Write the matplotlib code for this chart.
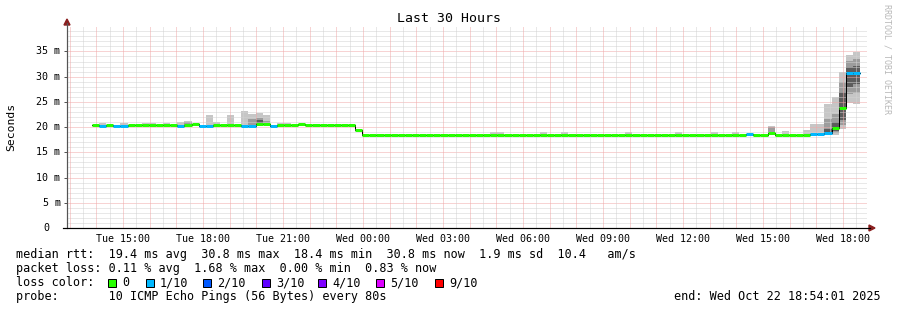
import matplotlib
matplotlib.use('Agg')
import matplotlib.pyplot as plt
from matplotlib.patches import Polygon, Rectangle
from matplotlib.lines import Line2D
from matplotlib.transforms import blended_transform_factory
import numpy as np

# ---------------- data ----------------
# time in hours since Tue 00:00; bins of 16 minutes
x_start = 12.9          # Tue 12:54
x_end = 42.9            # Wed 18:54
bin_start = 13.8375     # first consolidated bin
bin_hours = 16 / 60

median_ms = [
    20.4, 20.3, 20.4, 20.3, 20.3, 20.4, 20.4, 20.4, 20.4, 20.4,
    20.5, 20.4, 20.3, 20.5, 20.6, 20.3, 20.3, 20.5, 20.4, 20.5,
    20.5, 20.3, 20.3, 20.7, 20.6, 20.3, 20.4, 20.4, 20.4, 20.6,
    20.4, 20.4, 20.4, 20.4, 20.4, 20.4, 20.4, 19.4, 18.5, 18.5,
    18.5, 18.5, 18.5, 18.5, 18.5, 18.5, 18.5, 18.5, 18.5, 18.5,
    18.5, 18.5, 18.5, 18.5, 18.5, 18.5, 18.5, 18.5, 18.5, 18.5,
    18.5, 18.5, 18.5, 18.5, 18.5, 18.5, 18.5, 18.5, 18.5, 18.5,
    18.5, 18.5, 18.5, 18.5, 18.5, 18.4, 18.5, 18.5, 18.5, 18.5,
    18.5, 18.5, 18.5, 18.5, 18.5, 18.5, 18.5, 18.5, 18.5, 18.5,
    18.5, 18.5, 18.6, 18.5, 18.5, 18.9, 18.5, 18.5, 18.5, 18.4,
    18.5, 18.6, 18.6, 18.8, 19.9, 23.8, 30.8, 30.8,
]
# loss in tenths per bin (0 unless listed)
loss_bins = [1, 3, 4, 12, 15, 16, 21, 22, 25, 92, 101, 102, 103, 106, 107]
loss_vals = [1, 1, 1, 1, 1, 1, 1, 1, 1, 1, 1, 1, 1, 1, 1]

# smoke (ping spread) - light outer band
smoke_bins = [1, 4, 7, 8, 10, 12, 13, 16, 17, 19, 21, 22, 23, 24, 26, 27,
              56, 57, 63, 66, 75, 82, 87, 90, 95, 97, 100, 101, 102, 103,
              104, 105, 106, 107]
smoke_lo = [20.2, 20.2, 20.3, 20.3, 20.3, 20.2, 20.3, 20.2, 20.3, 20.3, 20.2,
            20.2, 20.4, 20.4, 20.3, 20.3,
            18.3, 18.3, 18.3, 18.3, 18.3, 18.3, 18.3, 18.3, 18.4, 18.4, 18.4,
            18.4, 18.4, 18.4, 18.4, 19.6, 24.8, 24.6]
smoke_hi = [20.8, 20.8, 20.8, 20.8, 20.8, 21.1, 21.2, 22.3, 21.1, 22.3, 23.1,
            22.6, 22.8, 22.4, 20.8, 20.8,
            19.1, 19.1, 19.0, 19.0, 19.0, 19.0, 19.0, 19.0, 20.3, 19.2, 19.5,
            20.6, 20.6, 24.6, 26.0, 31.0, 34.2, 34.8]
# middle band
mid_bins = [13, 22, 23, 24, 95, 103, 104, 105, 106, 107]
mid_lo = [20.4, 20.5, 20.5, 20.4, 18.6, 18.6, 18.8, 20.5, 26.5, 26.8]
mid_hi = [21.0, 21.6, 21.8, 21.2, 20.0, 21.6, 22.5, 29.0, 33.2, 33.5]
# dark inner band
dark_bins = [23, 103, 104, 105, 106, 107]
dark_lo = [20.6, 18.7, 19.2, 21.5, 28.0, 28.5]
dark_hi = [21.4, 19.6, 21.0, 27.0, 32.0, 32.2]

y_ticks = [0, 5, 10, 15, 20, 25, 30, 35]
y_tick_labels = ['0', '5 m', '10 m', '15 m', '20 m', '25 m', '30 m', '35 m']
x_ticks = [15, 18, 21, 24, 27, 30, 33, 36, 39, 42]
x_tick_labels = ['Tue 15:00', 'Tue 18:00', 'Tue 21:00', 'Wed 00:00', 'Wed 03:00',
                 'Wed 06:00', 'Wed 09:00', 'Wed 12:00', 'Wed 15:00', 'Wed 18:00']

loss_colors = {0: '#26ff00', 1: '#00b8ff', 2: '#0059ff', 3: '#5e00ff',
               4: '#7e00ff', 5: '#dd00ff', 9: '#ff0000'}
legend_loss = ['0', '1/10', '2/10', '3/10', '4/10', '5/10', '9/10']
legend_keys = [0, 1, 2, 3, 4, 5, 9]

line1 = 'median rtt:  19.4 ms avg  30.8 ms max  18.4 ms min  30.8 ms now  1.9 ms sd  10.4   am/s'
line2 = 'packet loss: 0.11 % avg  1.68 % max  0.00 % min  0.83 % now'
line3 = 'loss color:'
line4 = 'probe:       10 ICMP Echo Pings (56 Bytes) every 80s'
end_text = 'end: Wed Oct 22 18:54:01 2025'

# ---------------- figure ----------------
W, H, DPI = 897, 310, 100
MONO = 'DejaVu Sans Mono'
fig = plt.figure(figsize=(W / DPI, H / DPI), dpi=DPI)
fig.patch.set_facecolor('white')

L, R, B, T = 67, 867, 228, 26.2
ax = fig.add_axes([L / W, 1 - B / H, (R - L) / W, (B - T) / H])
ax.set_facecolor('white')
ax.set_xlim(x_start, x_end)
ax.set_ylim(0, 40)
for s in ax.spines.values():
    s.set_visible(False)

PX = 72 / DPI  # points per pixel
dot = (0, (1, 1))
minor_c = '#d2d2d2'
major_c = '#f0a8a8'
for v in range(1, 40):
    ax.axhline(v, color=major_c if v % 5 == 0 else minor_c, lw=PX, ls=dot, zorder=3)
hh = 13.0
while hh < x_end:
    is_major = abs(hh - round(hh)) < 1e-6
    ax.axvline(hh, color=major_c if is_major else minor_c, lw=PX, ls=dot, zorder=3)
    hh += 0.5

n = len(median_ms)
edges = bin_start + np.arange(n + 1) * bin_hours

def bands(idx, lo, hi, color, z):
    for i, a, b in zip(idx, lo, hi):
        ax.bar(edges[i], b - a, bottom=a, width=bin_hours, align='edge',
               color=color, linewidth=0, zorder=z)

bands(smoke_bins, smoke_lo, smoke_hi, '#c6c6c6', 2)
bands(mid_bins, mid_lo, mid_hi, '#9c9c9c', 2.1)
bands(dark_bins, dark_lo, dark_hi, '#5c5c5c', 2.2)

loss = [0] * n
for i, v in zip(loss_bins, loss_vals):
    loss[i] = v

ax.step(edges, list(median_ms) + [median_ms[-1]], where='post', color='black',
        lw=1.0 * PX, zorder=4)
seg_colors = [loss_colors[l] for l in loss]
ax.hlines(median_ms, edges[:-1], edges[1:], colors=seg_colors, lw=3 * PX,
          zorder=5, capstyle='butt')

# ticks
ax.set_yticks(y_ticks)
ax.tick_params(axis='y', length=3 * PX, width=PX, color='#555555', direction='out',
               labelleft=False)
ax.set_xticks(x_ticks)
ax.set_xticklabels(x_tick_labels, fontfamily=MONO, fontsize=7.2)
ax.tick_params(axis='x', length=0, pad=4)

trans = blended_transform_factory(fig.transFigure, ax.transData)
for v, lab in zip(y_ticks, y_tick_labels):
    xl = 36 if v >= 10 else 43
    ax.text(xl / W, v, lab, transform=trans, ha='left', va='center',
            fontfamily=MONO, fontsize=7.2, color='#000000')

def fx(x):
    return x / W

def fy(y):
    return 1 - y / H

# axis lines and arrows
fig.add_artist(Line2D([fx(67), fx(67)], [fy(228), fy(23)], color='#555555', lw=1.2 * PX))
fig.add_artist(Line2D([fx(63), fx(870)], [fy(228), fy(228)], color='#000000', lw=1.2 * PX))
fig.add_artist(Polygon([[fx(67), fy(19)], [fx(64), fy(25)], [fx(70), fy(25)]],
                       closed=True, color='#8b2020', transform=fig.transFigure))
fig.add_artist(Polygon([[fx(875), fy(228)], [fx(869), fy(225)], [fx(869), fy(231)]],
                       closed=True, color='#8b2020', transform=fig.transFigure))

# texts
fig.text(0.5, fy(19), 'Last 30 Hours', ha='center', va='center', fontfamily=MONO,
         fontsize=9.5)
fig.text(fx(11), fy(127), 'Seconds', ha='center', va='center', rotation=90,
         fontfamily=MONO, fontsize=8.2)
fig.text(fx(887), fy(59), 'RRDTOOL / TOBI OETIKER', ha='center', va='center',
         rotation=270, fontfamily=MONO, fontsize=6.0, color='#b8b8b8')

FS = 8.5
fig.text(fx(16), fy(254.5), line1, ha='left', va='center', fontfamily=MONO, fontsize=FS)
fig.text(fx(16), fy(268.5), line2, ha='left', va='center', fontfamily=MONO, fontsize=FS)
fig.text(fx(16), fy(282.5), line3, ha='left', va='center', fontfamily=MONO, fontsize=FS)
fig.text(fx(16), fy(296.5), line4, ha='left', va='center', fontfamily=MONO, fontsize=FS)
fig.text(fx(881), fy(296.5), end_text, ha='right', va='center', fontfamily=MONO, fontsize=FS)

box_x = [108, 146, 203, 262, 318, 376, 435]
for bx, key, lab in zip(box_x, legend_keys, legend_loss):
    fig.add_artist(Rectangle((fx(bx), fy(286.5)), 8 / W, 8 / H, transform=fig.transFigure,
                             facecolor=loss_colors[key], edgecolor='black', lw=PX))
    fig.text(fx(bx + 14), fy(282.5), lab, ha='left', va='center', fontfamily=MONO,
             fontsize=FS)

fig.savefig('out.png', dpi=DPI, facecolor='white')
